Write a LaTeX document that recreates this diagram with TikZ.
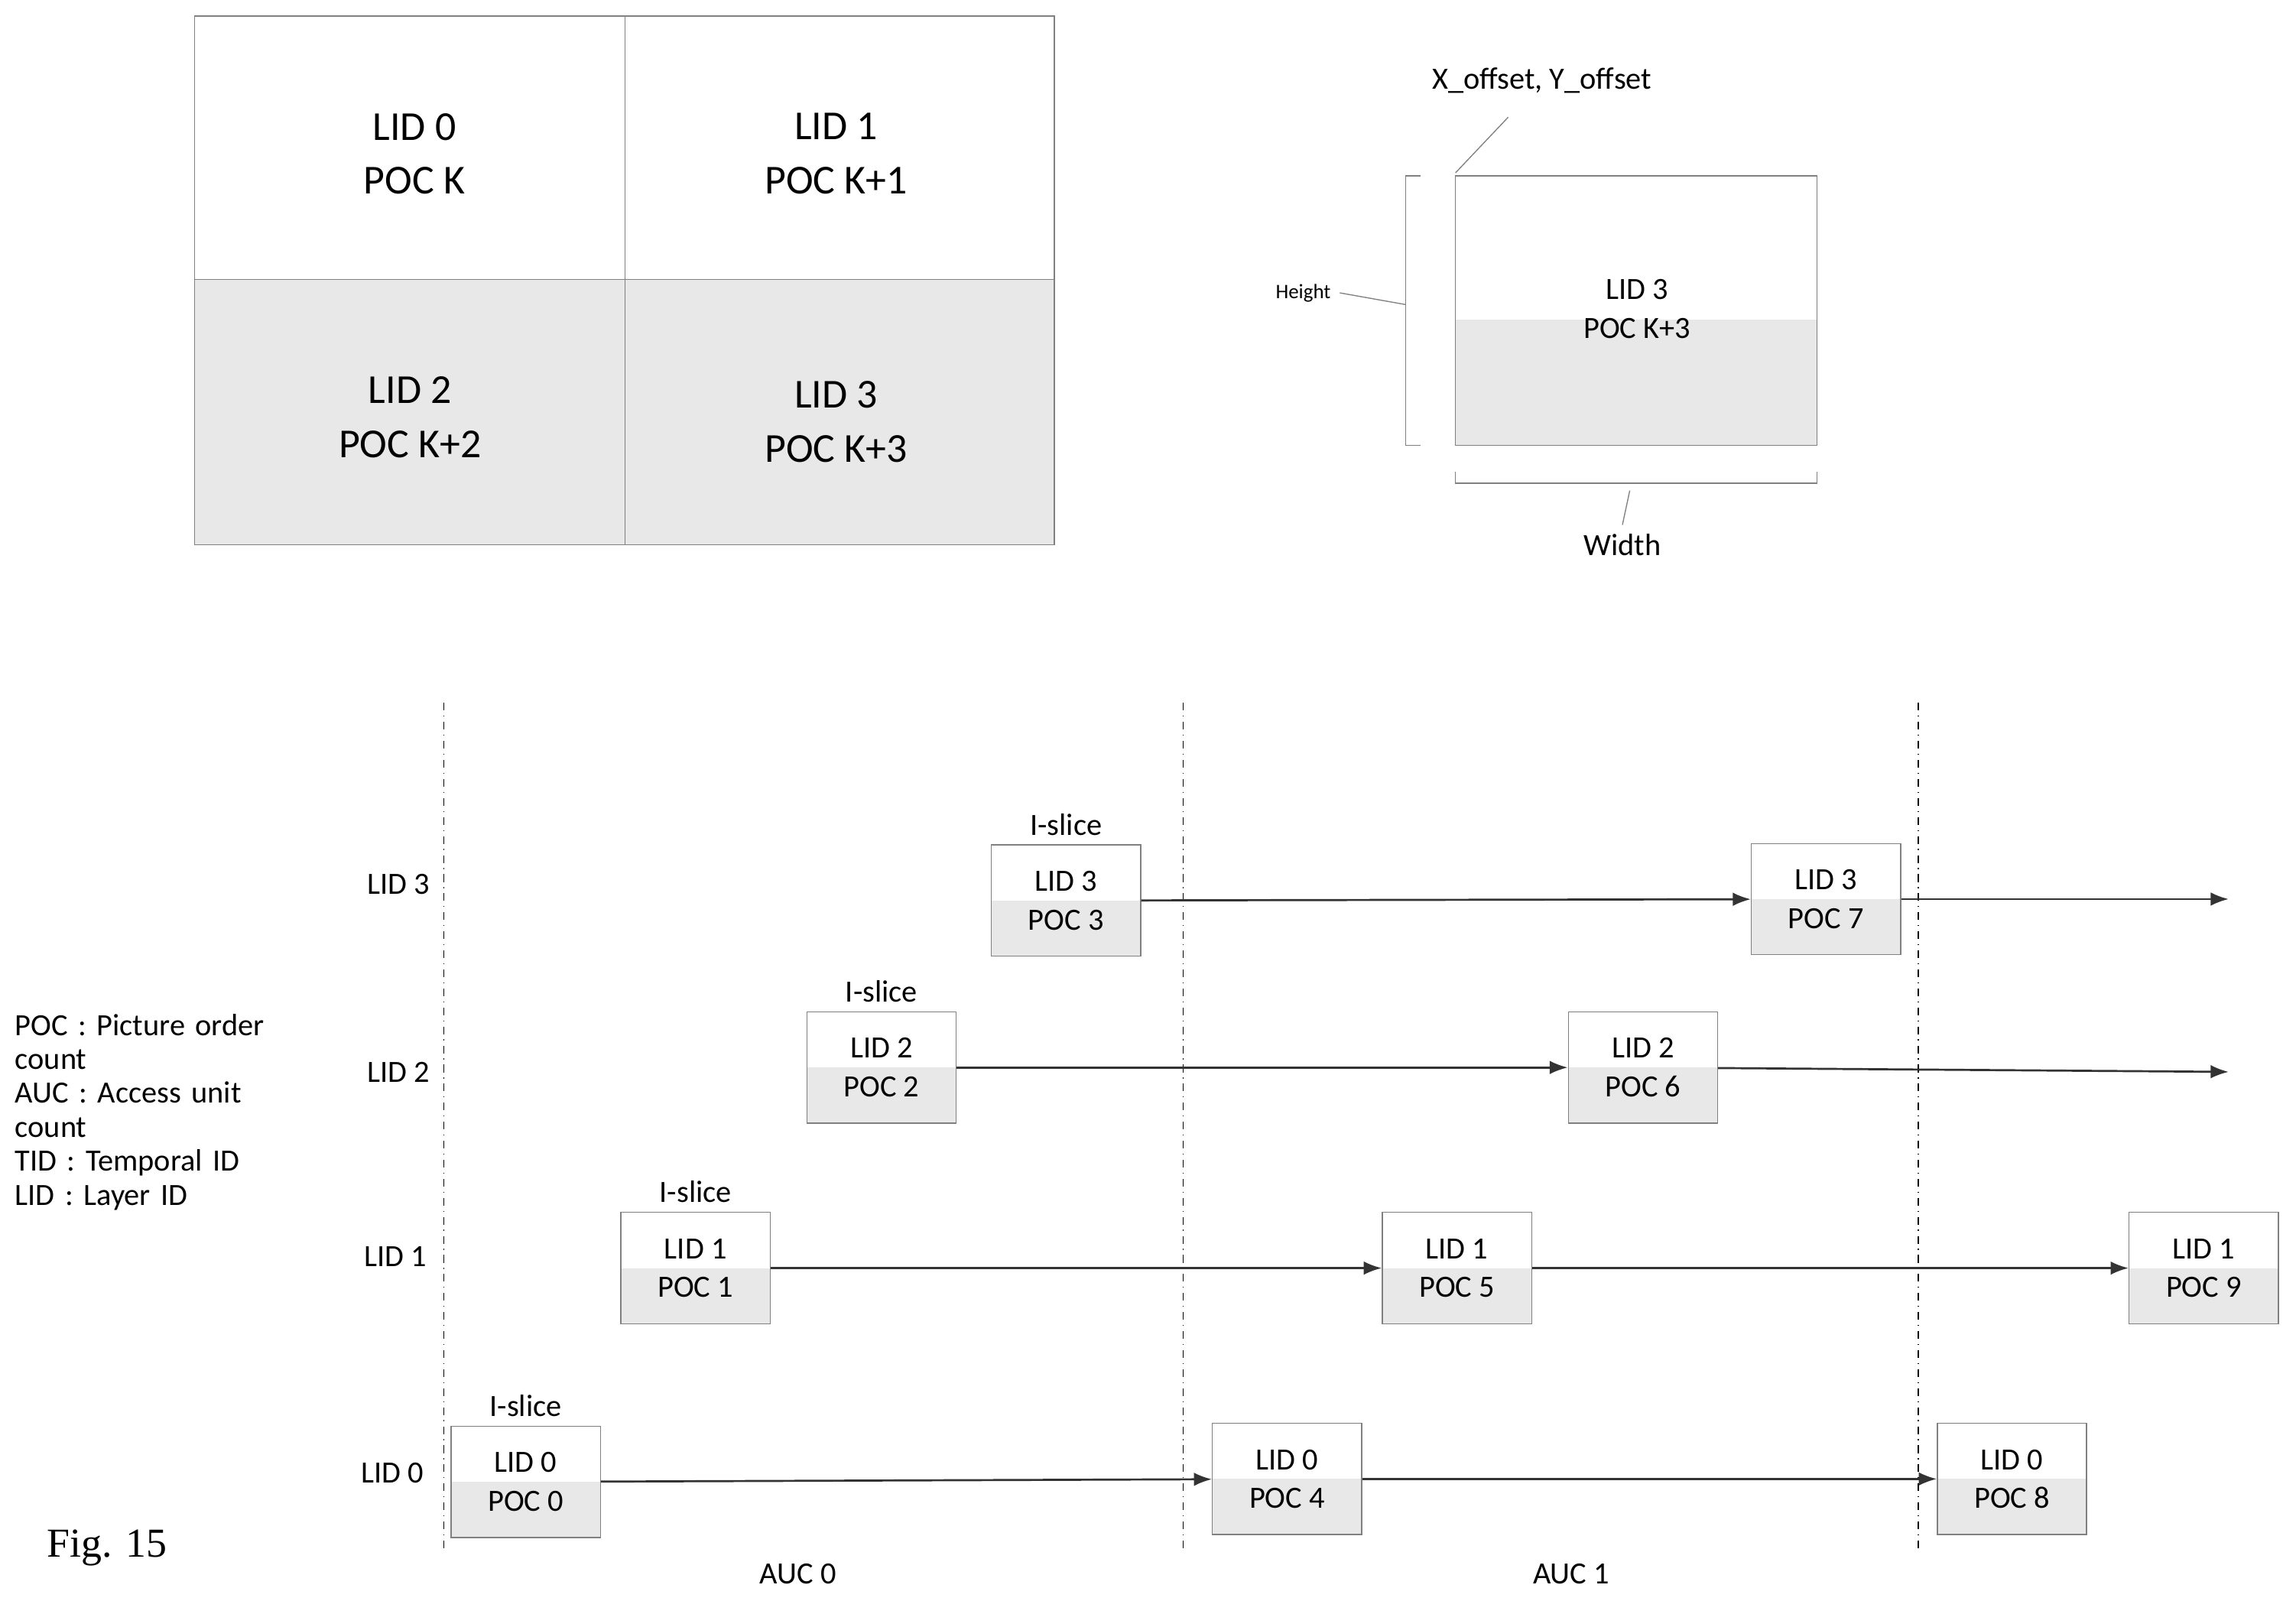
\documentclass[tikz,border=0pt]{standalone}
\usepackage{fontspec}
\setmainfont{Carlito}
\newfontfamily\figfont{Liberation Serif}
\usetikzlibrary{positioning,arrows.meta}
\tikzset{
  pic/.style={draw=gray,thin,minimum width=2.04cm,minimum height=1.52cm,align=center,font=\fontsize{12}{15}\selectfont,
    path picture={\fill[gray!18] (path picture bounding box.south west) rectangle (path picture bounding box.east);}},
  lbl/.style={font=\fontsize{12}{15}\selectfont},
  aucline/.style={black,thin,dash dot},
  ref/.style={-{Latex[length=7pt]},thick,black!80}
}
\begin{document}
\begin{tikzpicture}[x=0.02cm,y=-0.02cm]
\useasboundingbox (0,0) rectangle (1568,1093);
% big picture
\fill[gray!18] (133,191) rectangle (720,372);
\draw[gray,thin] (133,11) rectangle (720,372);
\draw[gray,thin] (427,11) -- (427,372);
\draw[gray,thin] (133,191) -- (720,191);
\node[align=center,font=\fontsize{16}{21}\selectfont] (c0) at (283,105) {LID 0\\POC K};
\node[align=center,font=\fontsize{16}{21}\selectfont] (c1) at (571,105) {LID 1\\POC K+1};
\node[align=center,font=\fontsize{16}{21}\selectfont] (c2) at (280,285) {LID 2\\POC K+2};
\node[align=center,font=\fontsize{16}{21}\selectfont] (c3) at (571,288) {LID 3\\POC K+3};
% single layer
\fill[gray!18] (994,218) rectangle (1241,304);
\draw[gray,thin] (994,120) rectangle (1241,304);
\node[lbl,align=center] (l3) at (1118,211) {LID 3\\POC K+3};
\draw[gray] (970,120) -- (960,120) -- (960,304) -- (970,304);
\draw[gray] (994,322) -- (994,330) -- (1241,330) -- (1241,322);
\node[font=\fontsize{8}{10}\selectfont] (h) at (890,200) {Height};
\draw[gray] (h.east) -- (960,208);
\node[lbl] (w) at (1108,372) {Width};
\draw[gray] (1113,335) -- (w.north);
\node[lbl] (xy) at (1053,55) {X\_offset, Y\_offset};
\draw[gray] (1030,80) -- (994,118);
% timeline
\foreach \x in {303,808,1310} \draw[aucline] (\x,480) -- (\x,1060);
\node[lbl] (r3) at (272,604) {LID 3};
\node[lbl] (r2) at (272,732) {LID 2};
\node[lbl] (r1) at (270,858) {LID 1};
\node[lbl] (r0) at (268,1006) {LID 0};
\node[pic] (p3) at (728,615) {LID 3\\POC 3};
\node[pic] (p7) at (1247,614) {LID 3\\POC 7};
\node[pic] (p2) at (602,729) {LID 2\\POC 2};
\node[pic] (p6) at (1122,729) {LID 2\\POC 6};
\node[pic] (p1) at (475,866) {LID 1\\POC 1};
\node[pic] (p5) at (995,866) {LID 1\\POC 5};
\node[pic] (p9) at (1505,866) {LID 1\\POC 9};
\node[pic] (p0) at (359,1012) {LID 0\\POC 0};
\node[pic] (p4) at (879,1010) {LID 0\\POC 4};
\node[pic] (p8) at (1374,1010) {LID 0\\POC 8};
\node[lbl,above=0pt of p3] {I-slice};
\node[lbl,above=0pt of p2] {I-slice};
\node[lbl,above=0pt of p1] {I-slice};
\node[lbl,above=0pt of p0] {I-slice};
\coordinate (e3) at (1522,614);
\coordinate (e2) at (1522,732);
\draw[ref] (p3) -- (p7);
\draw[ref] (p7) -- (e3);
\draw[ref] (p2) -- (p6);
\draw[ref] (p6) -- (e2);
\draw[ref] (p1) -- (p5);
\draw[ref] (p5) -- (p9);
\draw[ref] (p0) -- (p4);
\draw[ref] (p4) -- (p8);
\node[lbl] (a0) at (545,1075) {AUC 0};
\node[lbl] (a1) at (1073,1075) {AUC 1};
% legend
\node[font=\fontsize{12}{13.2}\selectfont,align=left,text width=4.2cm,anchor=north west,inner sep=0pt] (leg) at (10,692)
  {POC : Picture order count\\AUC : Access unit count\\TID : Temporal ID\\LID : Layer ID};
\node[font=\figfont\fontsize{16}{18}\selectfont] (fig) at (73,1057) {Fig. 15};
\end{tikzpicture}
\end{document}
